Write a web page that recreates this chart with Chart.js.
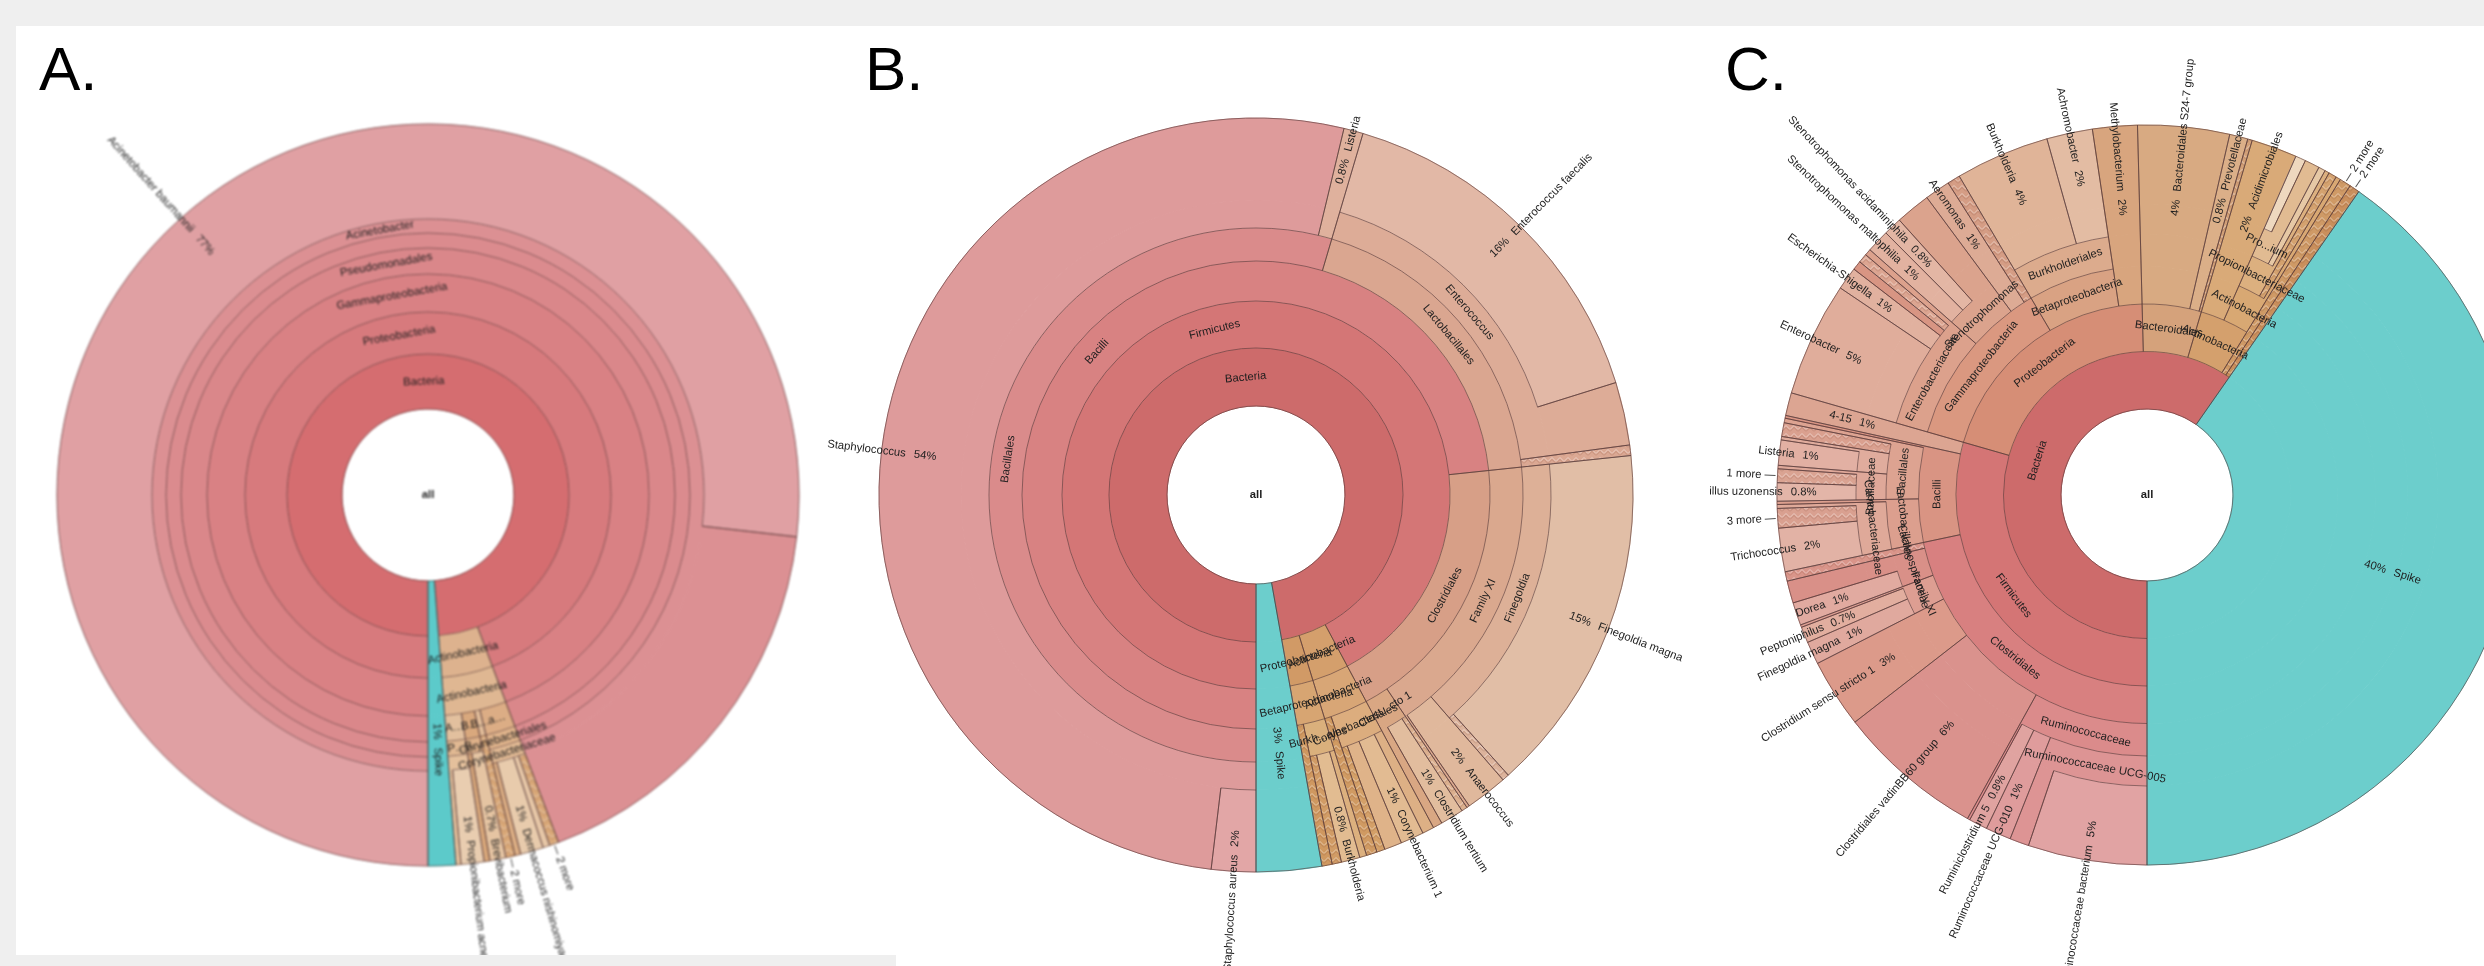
<!DOCTYPE html>
<html><head><meta charset="utf-8">
<script src="https://cdn.jsdelivr.net/npm/chart.js@4.4.1/dist/chart.umd.min.js"></script>
<style>
html,body{margin:0;padding:0;width:2484px;height:966px;overflow:hidden;background:#efefef;}
#panel{position:absolute;left:16px;top:26px;width:2468px;height:940px;background:#fff;}
#strip{position:absolute;left:16px;top:955px;width:880px;height:11px;background:#efefef;z-index:5;}
canvas{position:absolute;top:0;}
.letter{position:absolute;top:38px;font:62px/62px "Liberation Sans",Arial,sans-serif;color:#000;z-index:6;}
</style></head>
<body>
<div id="panel"></div>
<canvas id="cA" width="1000" height="990" style="left:-72px;filter:blur(0.9px)"></canvas>
<canvas id="cB" width="1000" height="990" style="left:756px"></canvas>
<canvas id="cC" width="874" height="990" style="left:1710px"></canvas>
<div id="strip"></div>
<div class="letter" style="left:39px">A.</div>
<div class="letter" style="left:865px">B.</div>
<div class="letter" style="left:1725px">C.</div>
<script>
// ---------------- Panel A data ----------------
const A_names = ['Bacteria','Spike','Proteobacteria','Actinobacteria','Gammaproteobacteria','Pseudomonadales','','Acinetobacter','Acinetobacter baumannii','Actinobacteria','a…','B…','B…','A…','Corynebacteriales','Corynebacteriaceae','2 more','','Dermacoccus nishinomiyaensis','','2 more','B…','Brevibacterium','','P…','','Propionibacterium acnes'];
const A_parents = [-1,-1,0,0,2,4,5,6,7,3,9,9,9,9,10,14,15,15,15,15,11,12,21,21,13,24,25];
const A_values = [98.8,1.2,94.28,4.52,94.28,94.28,94.28,94.28,76.8,4.52,1.95,0.4,0.95,1.22,1.95,1.95,0.4,0.3,1.0,0.25,0.4,0.95,0.7,0.25,1.22,1.22,1.0];

// ---------------- Panel B data ----------------
const B_names = ['Bacteria','Spike','Firmicutes','Actinobacteria','Proteobacteria','Bacilli','Clostridiales','Bacillales','Lactobacillales','Staphylococcus','Listeria','Staphylococcus aureus','Enterococcus','','Enterococcus faecalis','Family XI','Clost...cto 1','Finegoldia','Anaerococcus','Finegoldia magna','','','Clostridium tertium','Actinobacteria','Corynebacteriales','','','Corynebacterium 1','','','Betaproteobacteria','Burkh...ales','','','Burkholderia',''];
const B_parents = [-1,-1,0,0,0,2,2,5,5,7,7,9,8,8,12,6,6,15,15,17,17,16,16,3,23,23,24,24,24,24,4,30,30,31,31,31];
const B_values = [97.2,2.8,92.2,3.06,1.94,73.33,18.87,54.58,18.75,53.75,0.83,1.9,18.3,0.45,15.6,17.22,1.65,15.3,1.8,15.0,0.3,0.25,1.0,3.06,2.6,0.46,0.5,1.0,0.75,0.35,1.94,1.5,0.44,0.3,0.8,0.4];

// ---------------- Panel C data ----------------
const C_names = ['Bacteria','Spike','Firmicutes','Proteobacteria','Bacteroidales','Actinobacteria','2 more','2 more',
 'Clostridiales','Bacilli','4-15','Ruminococcaceae','Clostridiales vadinBB60 group','Clostridium sensu stricto 1','Family XI','Lachnospiraceae','',
 'Ruminococcaceae UCG-005','Ruminococcaceae UCG-010','Ruminiclostridium 5','Ruminococcaceae bacterium','Finegoldia magna','Peptoniphilus','Dorea',
 'Lactobacillales','Bacillales','Carnobacteriaceae','Trichococcus','3 more','Bacillaceae','','','Bacillus uzonensis','1 more','Listeria',
 'Gammaproteobacteria','Betaproteobacteria','Methylobacterium','Enterobacteriaceae','Stenotrophomonas','Aeromonas','',
 'Enterobacter','Escherichia-Shigella','','','Stenotrophomonas maltophilia','Stenotrophomonas acidaminiphila','Burkholderiales','Burkholderia','Achromobacter',
 'Bacteroidales S24-7 group','Prevotellaceae','','Acidimicrobiales','Actinobacteria','Propionibacteriaceae','','Pro...ium','',''];
const C_parents = [-1,-1,0,0,0,0,0,0,
 2,2,2,8,8,8,8,8,8,
 11,11,11,17,14,14,15,
 9,9,24,26,26,25,25,25,29,29,30,
 3,3,3,35,35,35,35,
 38,38,38,38,39,39,36,48,48,
 4,4,4,5,5,55,55,56,56,58];
const C_values = [59.7,40.3,29.45,20.14,5.0,4.16,0.5,0.45,
 21.67,6.78,1.0,8.06,6.42,3.0,1.81,1.97,0.41,
 6.03,1.11,0.81,5.19,1.0,0.7,1.0,
 3.06,3.6,2.92,1.9,0.85,1.55,1.25,0.6,0.8,0.6,1.1,
 12.08,6.11,1.95,7.08,3.33,1.11,0.56,
 5.0,1.0,0.4,0.4,1.0,0.8,6.11,4.11,2.0,
 4.0,0.8,0.2,2.0,2.16,1.6,0.35,1.1,0.3,0.45];

// ---------------- styles (colours / layout) ----------------
const A_colors = ['#d56d70','#5ccaca','#d77a7d','#ddb28e','#d98184','#da878a','#db8b8e','#dc9093','#e0a0a3','#dfb792','#dcad85','#e0bb98','#d9a87d','#e2c09e','#dfb38b','#e2ba94','#d9a878','#e6c6a6','#e8cbac','#dcae84','#d9a878','#ddb088','#e5c4a2','#d8a77a','#e0b892','#e4c09c','#e9cdb0'];
const A_hatched = [16,20], A_more = [16,20], A_radial = [];
const A_rings = [86,141,183,221,247,262,276,371];

const B_colors = ['#cd6b6b','#6ccecc','#d47676','#d49f6c','#d19a66','#d88282','#d79f87','#da8b8b','#daa690','#de9b9b','#dfb19d','#e2a6a6','#ddac97','#dba893','#e2b8a6','#daa88e','#d9a783','#ddb097','#e0b89c','#e1bea6','#dcb39c','#dcb08f','#e2bd9e','#d8a676','#dcad7e','#d09a62','#ddb085','#e2bb92','#dfb389','#d4a068','#d7a572','#dab07c','#cf9860','#dcb07e','#e2bc91','#d19c66'];
const B_hatched = [13,20,21,25,29,32,35], B_more = [], B_radial = [9];
const B_rings = [89,147,194,234,267,295,377];

const C_colors = ['#cd6b6b','#6ccecc','#d47575','#d68e76','#d5a27b','#d4a06d','#cf9a66','#c98f5c',
 '#d88080','#d99483','#dca592','#db8b8b','#da928d','#dc9a8a','#dd9e92','#d99088','#d9958a',
 '#dd9494','#df9c9c','#e0a3a0','#e1a3a3','#e0a99e','#e2ae9f','#e1aaa0',
 '#dc9f8e','#dda391','#dfa999','#e2b2a5','#d9a090','#dfa899','#e0ac9d','#daa08f','#e3b5a8','#daa392','#e2b0a3',
 '#da9880','#d9a283','#d8a57e','#dca18c','#dba38d','#ddab95','#d59d85',
 '#e0ad9b','#e1b19f','#d89583','#dca591','#e2b2a0','#e3b6a4','#dcab8d','#e0b498','#e3bca3',
 '#d8aa82','#dbaf88','#d2a078','#d9aa78','#d8a873','#dcb07f','#d4a26f','#e1bb92','#e6c8a5','#eed8bf'];
const C_hatched = [6,7,16,28,31,33,41,45,53,57], C_more = [6,7,28,33], C_radial = [];
const C_rings = [86,143.5,191,228.5,261,291,370];

const FONT = '11.3px "Liberation Sans", Arial, Helvetica, sans-serif';
const KRONA = {};

function fmtPct(v){ return v < 1 ? v.toFixed(1) + '%' : Math.round(v) + '%'; }

function makePattern(ctx, base){
  const c = document.createElement('canvas'); c.width = 8; c.height = 8;
  const g = c.getContext('2d');
  g.fillStyle = base; g.fillRect(0,0,8,8);
  g.lineWidth = 1;
  g.strokeStyle = 'rgba(255,255,255,0.45)';
  g.beginPath(); g.moveTo(0,5.5); g.lineTo(4,1.5); g.lineTo(8,5.5); g.stroke();
  g.strokeStyle = 'rgba(120,70,50,0.22)';
  g.beginPath(); g.moveTo(0,7.5); g.lineTo(4,3.5); g.lineTo(8,7.5); g.stroke();
  return ctx.createPattern(c, 'repeat');
}

function buildKrona(names, parents, values, nR){
  const nodes = names.map((nm,i)=>({i, name:nm, value:values[i], parent:parents[i], children:[]}));
  const roots = [];
  nodes.forEach(nd => { if (nd.parent < 0) roots.push(nd); else nodes[nd.parent].children.push(nd); });
  const setD = (nd,d) => { nd.depth = d; nd.children.forEach(c => setD(c, d+1)); };
  roots.forEach(r => setD(r,1));
  const terms = [];
  const walk = (nd, path) => {
    const p = path.concat([nd]);
    if (!nd.children.length){ terms.push({path:p, value:nd.value, ghostOf:null}); return; }
    let s = 0;
    nd.children.forEach(c => { walk(c,p); s += c.value; });
    const rem = nd.value - s;
    if (rem > 0.0005) terms.push({path:p, value:rem, ghostOf:nd});
  };
  roots.forEach(r => walk(r, []));
  const ringSlices = [];
  for (let k = 1; k <= nR; k++){
    const slices = [];
    terms.forEach(t => {
      const last = t.path[t.path.length-1];
      let key, kind, idx, first = false;
      if (k <= t.path.length){ const nd = t.path[k-1]; key = 'n'+nd.i; kind = 'node'; idx = nd.i; }
      else if (t.ghostOf){ key = 'g'+t.ghostOf.i; kind = 'ghost'; idx = t.ghostOf.i; first = (k === t.path.length+1); }
      else { key = 'x'+last.i; kind = 'ext'; idx = last.i; }
      const prev = slices[slices.length-1];
      if (prev && prev.key === key) prev.value += t.value;
      else slices.push({key, kind, nodeIdx:idx, value:t.value, first});
    });
    ringSlices.push(slices);
  }
  return {nodes, ringSlices};
}

const kronaPlugin = {
  id: 'kronaOverlay',
  afterDatasetsDraw(chart){
    const K = KRONA[chart.canvas.id];
    if (!K) return;
    const ctx = chart.ctx;
    const ds = chart.data.datasets;
    const a0 = chart.getDatasetMeta(0).data[0];
    const cx = a0.x, cy = a0.y, R = a0.outerRadius;
    const geo = {};
    const P = (r,t) => [cx + r*Math.cos(t), cy + r*Math.sin(t)];
    ctx.save();
    ctx.beginPath();
    const arcPath = (r,s,e) => { const p = P(r,s); ctx.moveTo(p[0],p[1]); ctx.arc(cx,cy,r,s,e); };
    const radPath = (t,r1,r2) => { const p = P(r1,t), q = P(r2,t); ctx.moveTo(p[0],p[1]); ctx.lineTo(q[0],q[1]); };
    ds.forEach((d,di) => {
      const meta = chart.getDatasetMeta(di);
      d.slices.forEach((s,j) => {
        const a = meta.data[j];
        const nd = K.nodes[s.nodeIdx];
        if (s.kind === 'node'){
          const term = nd.children.length === 0;
          const rEnd = term ? R : a.outerRadius;
          arcPath(a.innerRadius, a.startAngle, a.endAngle);
          radPath(a.startAngle, a.innerRadius, rEnd);
          radPath(a.endAngle, a.innerRadius, rEnd);
          if (term) arcPath(R, a.startAngle, a.endAngle);
          geo[nd.i] = {s:a.startAngle, e:a.endAngle, ri:a.innerRadius, ro:a.outerRadius};
        } else if (s.kind === 'ghost' && s.first){
          radPath(a.startAngle, a.innerRadius, R);
          radPath(a.endAngle, a.innerRadius, R);
          arcPath(R, a.startAngle, a.endAngle);
        }
      });
    });
    ctx.strokeStyle = K.lineColor; ctx.lineWidth = 1; ctx.stroke();

    ctx.fillStyle = K.textColor;
    ctx.font = FONT;
    ctx.textBaseline = 'middle';
    K.nodes.forEach(nd => {
      if (!nd.name) return;
      const g = geo[nd.i]; if (!g) return;
      const mid = (g.s + g.e)/2;
      let th = (mid*180/Math.PI + 90) % 360; if (th < 0) th += 360;
      const right = th < 180;
      let mode = nd.children.length === 0 ? 'radial' : 'tan';
      if (K.radial.includes(nd.i)) mode = 'radial';
      if (K.more.includes(nd.i)) mode = 'more';
      ctx.save();
      ctx.translate(cx, cy);
      if (mode === 'tan'){
        const r = (g.ri + g.ro)/2;
        ctx.rotate(mid); ctx.translate(r,0);
        ctx.rotate(Math.PI/2 + ((th > 90 && th < 270) ? Math.PI : 0));
        ctx.textAlign = 'center'; ctx.fillText(nd.name, 0, 0);
      } else if (mode === 'radial'){
        const r0 = (g.ri + R)/2;
        const pct = fmtPct(nd.value);
        const w = ctx.measureText(pct).width, gap = 8;
        if (right){ ctx.rotate(mid); ctx.textAlign = 'left'; ctx.fillText(pct, r0, 0); ctx.fillText(nd.name, r0+w+gap, 0); }
        else { ctx.rotate(mid+Math.PI); ctx.textAlign = 'right'; ctx.fillText(pct, -r0, 0); ctx.fillText(nd.name, -(r0+w+gap), 0); }
      } else {
        ctx.strokeStyle = '#555'; ctx.lineWidth = 1;
        if (right){ ctx.rotate(mid); ctx.beginPath(); ctx.moveTo(R+2,0); ctx.lineTo(R+11,0); ctx.stroke(); ctx.textAlign='left'; ctx.fillText(nd.name, R+14, 0); }
        else { ctx.rotate(mid+Math.PI); ctx.beginPath(); ctx.moveTo(-(R+2),0); ctx.lineTo(-(R+13),0); ctx.stroke(); ctx.textAlign='right'; ctx.fillText(nd.name, -(R+16), 0); }
      }
      ctx.restore();
    });
    ctx.font = 'bold ' + FONT; ctx.textAlign = 'center';
    ctx.fillText('all', cx, cy);
    ctx.restore();
  }
};

function drawKrona(id, names, parents, values, colors, hatched, more, radial, rings){
  const canvas = document.getElementById(id);
  const ctx = canvas.getContext('2d');
  const nR = rings.length - 1, R = rings[nR];
  const K = buildKrona(names, parents, values, nR);
  const fills = colors.map((c,i) => hatched.includes(i) ? makePattern(ctx, c) : c);
  const datasets = [];
  let maxLen = 0;
  for (let k = nR; k >= 1; k--){
    const sl = K.ringSlices[k-1];
    maxLen = Math.max(maxLen, sl.length);
    datasets.push({
      data: sl.map(s => s.value),
      backgroundColor: sl.map(s => fills[s.nodeIdx]),
      borderColor: sl.map(s => fills[s.nodeIdx]),
      borderWidth: 1,
      weight: rings[k] - rings[k-1],
      slices: sl, ring: k
    });
  }
  KRONA[id] = Object.assign(K, {more, radial, lineColor:'rgba(85,55,55,0.6)', textColor:'#1e1e1e'});
  new Chart(ctx, {
    type: 'doughnut',
    data: {labels: new Array(maxLen).fill(''), datasets},
    options: {
      responsive: false, animation: false, events: [], devicePixelRatio: 1,
      rotation: 180, circumference: 360,
      cutout: (rings[0]/R*100) + '%', radius: R,
      layout: {padding: 0},
      plugins: {legend: {display: false}, tooltip: {enabled: false}}
    },
    plugins: [kronaPlugin]
  });
}

drawKrona('cA', A_names, A_parents, A_values, A_colors, A_hatched, A_more, A_radial, A_rings);
drawKrona('cB', B_names, B_parents, B_values, B_colors, B_hatched, B_more, B_radial, B_rings);
drawKrona('cC', C_names, C_parents, C_values, C_colors, C_hatched, C_more, C_radial, C_rings);
</script>
</body></html>
